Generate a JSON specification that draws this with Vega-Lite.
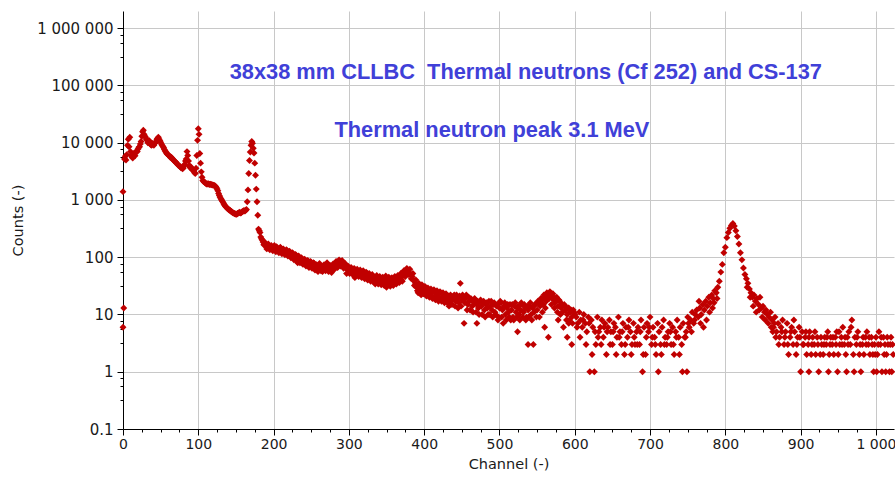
{
"$schema":"https://vega.github.io/schema/vega-lite/v6.json",
"width":771,"height":418,
"autosize":{"type":"none"},
"padding":{"left":123,"top":11,"right":1,"bottom":49},
"background":"white",
"config":{"view":{"stroke":null},"axis":{"labelFont":"DejaVu Sans","labelFontSize":14.5,"labelColor":"#1a1a1a","titleFont":"DejaVu Sans","titleFontSize":14.5,"titleFontWeight":"normal","titleColor":"#1a1a1a","domainColor":"#000000","tickColor":"#000000","gridColor":"#c8c8c8","gridWidth":1}},
"data":{"values":[
{"ch":0,"n":1400},{"ch":1,"n":13},{"ch":0,"n":6},
{"ch":2,"n":5200},{"ch":3,"n":5800},{"ch":4,"n":5000},{"ch":5,"n":6200},{"ch":6,"n":9000},{"ch":7,"n":11500},{"ch":8,"n":8500},{"ch":9,"n":12500},{"ch":10,"n":7000},{"ch":11,"n":6000},{"ch":12,"n":5600},{"ch":14,"n":6400},{"ch":16,"n":5900},{"ch":18,"n":7200},{"ch":20,"n":7800},{"ch":22,"n":8500},{"ch":24,"n":10500},{"ch":25,"n":13000},{"ch":26,"n":15500},{"ch":27,"n":16500},{"ch":28,"n":14000},{"ch":30,"n":12500},{"ch":32,"n":11000},{"ch":34,"n":10500},{"ch":36,"n":9500},{"ch":38,"n":9000},{"ch":40,"n":9300},{"ch":42,"n":9800},{"ch":44,"n":10500},{"ch":46,"n":12000},{"ch":47,"n":12500},{"ch":48,"n":11500},{"ch":50,"n":10200},{"ch":52,"n":9000},{"ch":54,"n":8200},{"ch":56,"n":7200},{"ch":58,"n":6500},{"ch":60,"n":6200},{"ch":62,"n":5800},{"ch":64,"n":5600},{"ch":66,"n":5200},{"ch":68,"n":4800},{"ch":70,"n":4600},{"ch":72,"n":4300},{"ch":74,"n":4000},{"ch":76,"n":3800},{"ch":78,"n":3700},{"ch":80,"n":3600},{"ch":82,"n":4200},{"ch":84,"n":5200},{"ch":85,"n":7000},{"ch":86,"n":6000},{"ch":87,"n":4800},{"ch":88,"n":4000},{"ch":90,"n":3800},{"ch":92,"n":3400},{"ch":94,"n":3200},{"ch":96,"n":2900},{"ch":97,"n":3600},{"ch":98,"n":6000},{"ch":99,"n":11000},{"ch":100,"n":17500},{"ch":101,"n":14000},{"ch":102,"n":6500},{"ch":103,"n":4400},{"ch":104,"n":3100},{"ch":105,"n":2500},{"ch":106,"n":2200},{"ch":108,"n":2050},{"ch":110,"n":1950},{"ch":112,"n":1900},{"ch":114,"n":1900},{"ch":116,"n":1880},{"ch":118,"n":1850},{"ch":120,"n":1820},{"ch":122,"n":1780},{"ch":124,"n":1650},{"ch":126,"n":1450},{"ch":128,"n":1200},{"ch":130,"n":1050},{"ch":132,"n":950},{"ch":134,"n":850},{"ch":136,"n":780},{"ch":138,"n":730},{"ch":140,"n":690},{"ch":142,"n":660},{"ch":144,"n":630},{"ch":146,"n":600},{"ch":148,"n":580},{"ch":150,"n":570},{"ch":152,"n":580},{"ch":154,"n":600},{"ch":156,"n":590},{"ch":158,"n":620},{"ch":160,"n":650},{"ch":162,"n":640},{"ch":164,"n":680},{"ch":165,"n":930},{"ch":166,"n":1500},{"ch":167,"n":2900},{"ch":168,"n":4900},{"ch":169,"n":6900},{"ch":170,"n":9000},{"ch":171,"n":10500},{"ch":172,"n":9800},{"ch":173,"n":8000},{"ch":174,"n":6600},{"ch":175,"n":4400},{"ch":176,"n":2700},{"ch":177,"n":1550},{"ch":178,"n":930},{"ch":179,"n":540},{"ch":180,"n":310},{"ch":182,"n":270},{"ch":183,"n":225},{"ch":184,"n":210},{"ch":186,"n":185},{"ch":188,"n":170},{"ch":190,"n":155},{"ch":192,"n":160},{"ch":194,"n":150},{"ch":196,"n":155},{"ch":198,"n":145},
{"ch":13,"n":5400},{"ch":15,"n":6000},{"ch":17,"n":6800},{"ch":19,"n":7000},{"ch":21,"n":8300},{"ch":23,"n":9500},{"ch":29,"n":13000},{"ch":31,"n":11500},{"ch":33,"n":10000},{"ch":35,"n":10800},{"ch":37,"n":9200},{"ch":39,"n":9700},{"ch":41,"n":9000},{"ch":43,"n":10000},{"ch":45,"n":11500},{"ch":49,"n":10800},{"ch":51,"n":9500},{"ch":53,"n":8600},{"ch":55,"n":7600},{"ch":57,"n":6900},{"ch":59,"n":6300},{"ch":61,"n":6000},{"ch":63,"n":5500},{"ch":65,"n":5400},{"ch":67,"n":5000},{"ch":69,"n":4700},{"ch":71,"n":4400},{"ch":73,"n":4100},{"ch":75,"n":3900},{"ch":77,"n":3650},{"ch":79,"n":3500},{"ch":81,"n":3900},{"ch":83,"n":4800},{"ch":89,"n":3700},{"ch":91,"n":3500},{"ch":93,"n":3300},{"ch":95,"n":3000},
{"ch":107,"n":2100},{"ch":109,"n":2000},{"ch":111,"n":1900},{"ch":113,"n":1920},{"ch":115,"n":1870},{"ch":117,"n":1860},{"ch":119,"n":1830},{"ch":121,"n":1800},{"ch":123,"n":1720},{"ch":125,"n":1550},{"ch":127,"n":1300},{"ch":129,"n":1120},{"ch":131,"n":1000},{"ch":133,"n":900},{"ch":135,"n":810},{"ch":137,"n":750},{"ch":139,"n":700},{"ch":141,"n":670},{"ch":143,"n":640},{"ch":145,"n":610},{"ch":147,"n":590},{"ch":149,"n":570},{"ch":151,"n":560},{"ch":153,"n":590},{"ch":155,"n":610},{"ch":157,"n":600},{"ch":159,"n":630},{"ch":161,"n":650},{"ch":163,"n":660},
{"ch":200,"n":148},{"ch":202,"n":140},{"ch":204,"n":152},{"ch":206,"n":138},{"ch":208,"n":135},{"ch":210,"n":142},{"ch":212,"n":128},{"ch":214,"n":132},{"ch":216,"n":125},{"ch":218,"n":130},{"ch":220,"n":118},{"ch":222,"n":122},{"ch":224,"n":110},{"ch":226,"n":115},{"ch":228,"n":100},{"ch":230,"n":108},{"ch":232,"n":96},{"ch":234,"n":102},{"ch":236,"n":88},{"ch":238,"n":92},{"ch":240,"n":84},{"ch":242,"n":90},{"ch":244,"n":80},{"ch":246,"n":86},{"ch":248,"n":76},{"ch":250,"n":82},{"ch":252,"n":74},{"ch":254,"n":78},{"ch":256,"n":68},{"ch":258,"n":60},{"ch":260,"n":72},{"ch":262,"n":66},{"ch":264,"n":70},{"ch":266,"n":62},{"ch":268,"n":68},{"ch":270,"n":74},{"ch":272,"n":64},{"ch":274,"n":58},{"ch":276,"n":66},{"ch":278,"n":60},{"ch":280,"n":70},{"ch":282,"n":76},{"ch":284,"n":72},{"ch":286,"n":82},{"ch":288,"n":78},{"ch":290,"n":84},{"ch":292,"n":74},{"ch":294,"n":70},{"ch":296,"n":64},{"ch":298,"n":68},{"ch":300,"n":60},{"ch":302,"n":62},{"ch":304,"n":56},{"ch":306,"n":60},{"ch":308,"n":54},{"ch":310,"n":58},{"ch":312,"n":52},{"ch":314,"n":56},{"ch":316,"n":50},{"ch":318,"n":54},{"ch":320,"n":48},{"ch":322,"n":46},{"ch":324,"n":52},{"ch":326,"n":44},{"ch":328,"n":48},{"ch":330,"n":42},{"ch":332,"n":46},{"ch":334,"n":40},{"ch":336,"n":44},{"ch":338,"n":38},{"ch":340,"n":42},{"ch":342,"n":36},{"ch":344,"n":40},{"ch":346,"n":34},{"ch":348,"n":44},{"ch":350,"n":38},{"ch":352,"n":42},{"ch":354,"n":36},{"ch":356,"n":34},{"ch":358,"n":40},{"ch":360,"n":38},{"ch":362,"n":44},{"ch":364,"n":36},{"ch":366,"n":42},{"ch":368,"n":46},{"ch":370,"n":40},{"ch":372,"n":48},{"ch":374,"n":52},{"ch":376,"n":56},{"ch":378,"n":60},{"ch":380,"n":54},{"ch":382,"n":50},{"ch":384,"n":46},{"ch":386,"n":40},{"ch":388,"n":36},{"ch":390,"n":30},{"ch":392,"n":32},{"ch":394,"n":28},{"ch":396,"n":30},{"ch":398,"n":26},{"ch":400,"n":28},
{"ch":232,"n":80},{"ch":308,"n":44},{"ch":350,"n":30},{"ch":392,"n":24},{"ch":396,"n":22},{"ch":265,"n":56},{"ch":297,"n":52},{"ch":335,"n":34},
{"ch":181,"n":290},{"ch":185,"n":200},{"ch":187,"n":165},{"ch":189,"n":180},{"ch":191,"n":140},{"ch":193,"n":170},{"ch":195,"n":135},{"ch":197,"n":160},{"ch":199,"n":130},{"ch":201,"n":160},{"ch":203,"n":125},{"ch":205,"n":145},{"ch":207,"n":120},{"ch":209,"n":150},{"ch":211,"n":115},{"ch":213,"n":140},{"ch":215,"n":110},{"ch":217,"n":135},{"ch":219,"n":105},{"ch":221,"n":128},{"ch":223,"n":98},{"ch":225,"n":120},{"ch":227,"n":90},{"ch":229,"n":112},{"ch":231,"n":85},{"ch":233,"n":105},{"ch":235,"n":80},{"ch":237,"n":98},{"ch":239,"n":75},{"ch":241,"n":92},{"ch":243,"n":70},{"ch":245,"n":88},{"ch":247,"n":66},{"ch":249,"n":84},{"ch":251,"n":64},{"ch":253,"n":80},{"ch":255,"n":60},{"ch":257,"n":74},{"ch":259,"n":56},{"ch":261,"n":78},{"ch":263,"n":58},{"ch":267,"n":74},{"ch":269,"n":58},{"ch":271,"n":80},{"ch":273,"n":56},{"ch":275,"n":72},{"ch":277,"n":54},{"ch":279,"n":76},{"ch":281,"n":62},{"ch":283,"n":84},{"ch":285,"n":66},{"ch":287,"n":90},{"ch":289,"n":70},{"ch":291,"n":88},{"ch":293,"n":64},{"ch":295,"n":78},{"ch":299,"n":70},{"ch":301,"n":52},{"ch":303,"n":66},{"ch":305,"n":50},{"ch":307,"n":64},{"ch":309,"n":48},{"ch":311,"n":62},{"ch":313,"n":46},{"ch":315,"n":60},{"ch":317,"n":44},{"ch":319,"n":58},{"ch":321,"n":42},{"ch":323,"n":55},{"ch":325,"n":40},{"ch":327,"n":52},{"ch":329,"n":38},{"ch":331,"n":50},{"ch":333,"n":37},{"ch":337,"n":48},{"ch":339,"n":34},{"ch":341,"n":46},{"ch":343,"n":33},{"ch":345,"n":45},{"ch":347,"n":32},{"ch":349,"n":47},{"ch":351,"n":33},{"ch":353,"n":45},{"ch":355,"n":31},{"ch":357,"n":44},{"ch":359,"n":32},{"ch":361,"n":46},{"ch":363,"n":34},{"ch":365,"n":48},{"ch":367,"n":36},{"ch":369,"n":52},{"ch":371,"n":38},{"ch":373,"n":58},{"ch":375,"n":46},{"ch":377,"n":64},{"ch":379,"n":50},{"ch":381,"n":62},{"ch":383,"n":42},{"ch":385,"n":52},{"ch":387,"n":32},{"ch":389,"n":40},{"ch":391,"n":26},{"ch":393,"n":35},{"ch":395,"n":24},{"ch":397,"n":33},{"ch":399,"n":23},
{"ch":402,"n":25},{"ch":404,"n":22},{"ch":406,"n":26},{"ch":408,"n":24},{"ch":410,"n":21},{"ch":412,"n":25},{"ch":414,"n":20},{"ch":416,"n":23},{"ch":418,"n":22},{"ch":420,"n":19},{"ch":422,"n":24},{"ch":424,"n":20},{"ch":426,"n":18},{"ch":428,"n":22},{"ch":430,"n":19},{"ch":432,"n":21},{"ch":434,"n":17},{"ch":436,"n":20},{"ch":438,"n":18},{"ch":440,"n":22},{"ch":442,"n":17},{"ch":444,"n":19},{"ch":446,"n":16},{"ch":448,"n":35},{"ch":450,"n":18},{"ch":452,"n":20},{"ch":454,"n":16},{"ch":456,"n":22},{"ch":458,"n":15},{"ch":460,"n":17},{"ch":462,"n":19},{"ch":464,"n":14},{"ch":466,"n":16},{"ch":468,"n":18},{"ch":470,"n":15},{"ch":472,"n":13},{"ch":474,"n":17},{"ch":476,"n":14},{"ch":478,"n":16},{"ch":480,"n":12},{"ch":482,"n":15},{"ch":484,"n":13},{"ch":486,"n":17},{"ch":488,"n":14},{"ch":490,"n":12},{"ch":492,"n":15},{"ch":494,"n":11},{"ch":496,"n":14},{"ch":498,"n":8},{"ch":500,"n":13},{"ch":502,"n":16},{"ch":504,"n":12},{"ch":506,"n":14},{"ch":508,"n":10},{"ch":510,"n":13},{"ch":512,"n":11},{"ch":514,"n":15},{"ch":516,"n":12},{"ch":518,"n":9},{"ch":520,"n":14},{"ch":522,"n":11},{"ch":524,"n":13},{"ch":526,"n":10},{"ch":528,"n":12},{"ch":530,"n":15},{"ch":532,"n":11},{"ch":534,"n":13},{"ch":536,"n":9},{"ch":538,"n":12},{"ch":540,"n":14},{"ch":542,"n":10},{"ch":544,"n":13},{"ch":546,"n":11},{"ch":548,"n":15},{"ch":550,"n":12},{"ch":552,"n":16},{"ch":554,"n":14},{"ch":556,"n":18},{"ch":558,"n":15},{"ch":560,"n":20},{"ch":562,"n":17},{"ch":564,"n":22},{"ch":566,"n":19},{"ch":568,"n":24},{"ch":570,"n":21},{"ch":572,"n":18},{"ch":574,"n":16},{"ch":576,"n":20},{"ch":578,"n":14},{"ch":580,"n":17},{"ch":582,"n":13},{"ch":584,"n":11},{"ch":586,"n":15},{"ch":588,"n":12},{"ch":590,"n":10},{"ch":592,"n":13},{"ch":594,"n":11},{"ch":596,"n":9},{"ch":598,"n":12},{"ch":600,"n":10},
{"ch":453,"n":7},{"ch":470,"n":7},{"ch":505,"n":7},{"ch":538,"n":3},{"ch":545,"n":3},{"ch":524,"n":5},{"ch":560,"n":6},{"ch":565,"n":4},{"ch":590,"n":4},{"ch":596,"n":3},{"ch":592,"n":7},{"ch":585,"n":6},{"ch":578,"n":8},{"ch":433,"n":14},{"ch":487,"n":10},{"ch":515,"n":8},{"ch":553,"n":9},
{"ch":401,"n":31},{"ch":403,"n":21},{"ch":405,"n":29},{"ch":407,"n":20},{"ch":409,"n":28},{"ch":411,"n":19},{"ch":413,"n":27},{"ch":415,"n":18},{"ch":417,"n":26},{"ch":419,"n":17},{"ch":421,"n":25},{"ch":423,"n":17},{"ch":425,"n":24},{"ch":427,"n":16},{"ch":429,"n":23},{"ch":431,"n":16},{"ch":435,"n":22},{"ch":437,"n":15},{"ch":439,"n":21},{"ch":441,"n":14},{"ch":443,"n":22},{"ch":445,"n":13},{"ch":447,"n":21},{"ch":449,"n":14},{"ch":451,"n":22},{"ch":455,"n":19},{"ch":457,"n":12},{"ch":459,"n":20},{"ch":461,"n":12},{"ch":463,"n":18},{"ch":465,"n":11},{"ch":467,"n":19},{"ch":469,"n":11},{"ch":471,"n":17},{"ch":473,"n":10},{"ch":475,"n":18},{"ch":477,"n":10},{"ch":479,"n":17},{"ch":481,"n":9},{"ch":483,"n":16},{"ch":485,"n":10},{"ch":489,"n":17},{"ch":491,"n":9},{"ch":493,"n":16},{"ch":495,"n":10},{"ch":497,"n":15},{"ch":499,"n":9},{"ch":501,"n":17},{"ch":503,"n":9},{"ch":507,"n":16},{"ch":509,"n":8},{"ch":511,"n":15},{"ch":513,"n":9},{"ch":517,"n":15},{"ch":519,"n":8},{"ch":521,"n":16},{"ch":523,"n":9},{"ch":525,"n":14},{"ch":527,"n":8},{"ch":529,"n":16},{"ch":531,"n":9},{"ch":533,"n":15},{"ch":535,"n":8},{"ch":537,"n":14},{"ch":539,"n":9},{"ch":541,"n":16},{"ch":543,"n":8},{"ch":547,"n":15},{"ch":549,"n":9},{"ch":551,"n":17},{"ch":555,"n":19},{"ch":557,"n":11},{"ch":559,"n":22},{"ch":561,"n":13},{"ch":563,"n":24},{"ch":567,"n":25},{"ch":569,"n":15},{"ch":571,"n":23},{"ch":573,"n":13},{"ch":575,"n":19},{"ch":577,"n":11},{"ch":579,"n":18},{"ch":581,"n":10},{"ch":583,"n":15},{"ch":587,"n":14},{"ch":589,"n":8},{"ch":591,"n":13},{"ch":593,"n":8},{"ch":595,"n":12},{"ch":597,"n":7},{"ch":599,"n":11},
{"ch":602,"n":9},{"ch":604,"n":7},{"ch":606,"n":11},{"ch":608,"n":8},{"ch":610,"n":6},{"ch":612,"n":10},{"ch":614,"n":7},{"ch":616,"n":5},{"ch":618,"n":9},{"ch":620,"n":1},{"ch":622,"n":8},{"ch":624,"n":6},{"ch":626,"n":1},{"ch":628,"n":3},{"ch":630,"n":9},{"ch":632,"n":5},{"ch":634,"n":6},{"ch":636,"n":8},{"ch":638,"n":4},{"ch":640,"n":7},{"ch":642,"n":2},{"ch":644,"n":6},{"ch":646,"n":8},{"ch":648,"n":5},{"ch":650,"n":3},{"ch":652,"n":7},{"ch":654,"n":6},{"ch":656,"n":4},{"ch":658,"n":9},{"ch":660,"n":5},{"ch":662,"n":3},{"ch":664,"n":7},{"ch":666,"n":2},{"ch":668,"n":6},{"ch":670,"n":4},{"ch":672,"n":8},{"ch":674,"n":5},{"ch":676,"n":3},{"ch":678,"n":7},{"ch":680,"n":3},{"ch":682,"n":5},{"ch":684,"n":6},{"ch":686,"n":3},{"ch":688,"n":8},{"ch":690,"n":1},{"ch":692,"n":6},{"ch":694,"n":2},{"ch":696,"n":7},{"ch":698,"n":5},{"ch":700,"n":9},{"ch":702,"n":3},{"ch":704,"n":6},{"ch":706,"n":4},{"ch":708,"n":2},{"ch":710,"n":7},{"ch":712,"n":5},{"ch":714,"n":3},{"ch":716,"n":6},{"ch":718,"n":8},{"ch":720,"n":4},{"ch":722,"n":3},{"ch":724,"n":5},{"ch":726,"n":7},{"ch":728,"n":3},{"ch":730,"n":6},{"ch":732,"n":2},{"ch":734,"n":5},{"ch":736,"n":8},{"ch":738,"n":4},{"ch":740,"n":6},{"ch":742,"n":3},{"ch":744,"n":7},{"ch":746,"n":4},{"ch":748,"n":5},{"ch":750,"n":9},{"ch":752,"n":6},{"ch":754,"n":8},{"ch":756,"n":11},{"ch":758,"n":7},{"ch":760,"n":10},
{"ch":603,"n":6},{"ch":607,"n":4},{"ch":611,"n":8},{"ch":615,"n":3},{"ch":619,"n":7},{"ch":623,"n":2},{"ch":627,"n":5},{"ch":631,"n":4},{"ch":635,"n":3},{"ch":639,"n":6},{"ch":643,"n":5},{"ch":647,"n":3},{"ch":651,"n":5},{"ch":655,"n":2},{"ch":659,"n":4},{"ch":663,"n":5},{"ch":667,"n":3},{"ch":671,"n":6},{"ch":675,"n":2},{"ch":679,"n":4},{"ch":683,"n":3},{"ch":687,"n":5},{"ch":691,"n":2},{"ch":695,"n":4},{"ch":699,"n":6},{"ch":703,"n":4},{"ch":707,"n":3},{"ch":711,"n":1},{"ch":715,"n":2},{"ch":719,"n":3},{"ch":723,"n":4},{"ch":727,"n":5},{"ch":731,"n":3},{"ch":735,"n":4},{"ch":739,"n":2},{"ch":743,"n":1},{"ch":747,"n":4},{"ch":749,"n":1},{"ch":751,"n":7},{"ch":755,"n":5},{"ch":759,"n":8},
{"ch":762,"n":12},{"ch":764,"n":9},{"ch":765,"n":17},{"ch":766,"n":13},{"ch":768,"n":10},{"ch":770,"n":15},{"ch":772,"n":12},{"ch":774,"n":17},{"ch":776,"n":14},{"ch":778,"n":20},{"ch":780,"n":16},{"ch":782,"n":22},{"ch":784,"n":19},{"ch":786,"n":26},{"ch":788,"n":24},{"ch":790,"n":30},{"ch":792,"n":38},{"ch":794,"n":55},{"ch":796,"n":75},{"ch":798,"n":120},{"ch":800,"n":150},{"ch":802,"n":220},{"ch":804,"n":270},{"ch":806,"n":320},{"ch":808,"n":360},{"ch":810,"n":390},{"ch":812,"n":350},{"ch":814,"n":290},{"ch":816,"n":230},{"ch":818,"n":170},{"ch":820,"n":120},{"ch":822,"n":90},{"ch":824,"n":65},{"ch":826,"n":50},{"ch":828,"n":42},{"ch":830,"n":35},{"ch":832,"n":28},{"ch":834,"n":24},{"ch":836,"n":20},{"ch":838,"n":22},{"ch":840,"n":17},{"ch":842,"n":19},{"ch":844,"n":15},{"ch":846,"n":20},{"ch":848,"n":13},{"ch":850,"n":14},{"ch":852,"n":11},{"ch":854,"n":12},{"ch":856,"n":10},{"ch":858,"n":9},{"ch":860,"n":11},
{"ch":767,"n":7},{"ch":771,"n":6},{"ch":775,"n":8},{"ch":779,"n":11},{"ch":783,"n":13},{"ch":785,"n":16},{"ch":789,"n":19},{"ch":829,"n":30},{"ch":833,"n":20},{"ch":837,"n":14},{"ch":841,"n":11},{"ch":845,"n":12},{"ch":849,"n":9},{"ch":853,"n":8},{"ch":857,"n":7},{"ch":861,"n":6},{"ch":865,"n":7},
{"ch":862,"n":8},{"ch":864,"n":6},{"ch":866,"n":9},{"ch":868,"n":5},{"ch":870,"n":7},{"ch":872,"n":4},{"ch":874,"n":6},{"ch":876,"n":8},{"ch":878,"n":3},{"ch":880,"n":5},{"ch":882,"n":7},{"ch":884,"n":2},{"ch":886,"n":4},{"ch":888,"n":6},{"ch":890,"n":3},{"ch":892,"n":5},{"ch":894,"n":2},{"ch":896,"n":4},{"ch":898,"n":6},{"ch":900,"n":1},{"ch":902,"n":5},{"ch":904,"n":3},{"ch":906,"n":4},{"ch":908,"n":2},{"ch":910,"n":3},{"ch":911,"n":1},{"ch":912,"n":5},{"ch":914,"n":2},{"ch":916,"n":4},{"ch":918,"n":3},{"ch":920,"n":2},{"ch":922,"n":4},{"ch":924,"n":1},{"ch":926,"n":2},{"ch":928,"n":3},{"ch":930,"n":2},{"ch":932,"n":4},{"ch":934,"n":3},{"ch":936,"n":5},{"ch":937,"n":1},{"ch":938,"n":2},{"ch":940,"n":4},{"ch":942,"n":3},{"ch":944,"n":2},{"ch":946,"n":4},{"ch":948,"n":5},{"ch":949,"n":1},{"ch":950,"n":2},{"ch":952,"n":3},{"ch":954,"n":4},{"ch":956,"n":6},{"ch":958,"n":3},{"ch":960,"n":2},{"ch":961,"n":1},{"ch":962,"n":4},{"ch":964,"n":5},{"ch":966,"n":3},{"ch":968,"n":8},{"ch":970,"n":2},{"ch":971,"n":1},{"ch":972,"n":4},{"ch":974,"n":3},{"ch":976,"n":5},{"ch":978,"n":2},{"ch":980,"n":1},{"ch":982,"n":3},{"ch":984,"n":2},{"ch":986,"n":4},{"ch":988,"n":5},{"ch":990,"n":3},{"ch":992,"n":2},{"ch":994,"n":4},{"ch":996,"n":2},{"ch":997,"n":1},{"ch":998,"n":3},{"ch":1000,"n":4},{"ch":1001,"n":1},{"ch":1002,"n":2},{"ch":1004,"n":5},{"ch":1006,"n":3},{"ch":1008,"n":1},{"ch":1010,"n":4},{"ch":1012,"n":3},{"ch":1013,"n":1},{"ch":1014,"n":2},{"ch":1016,"n":3},{"ch":1018,"n":1},{"ch":1020,"n":4},{"ch":1021,"n":1},{"ch":1022,"n":3},
{"ch":863,"n":5},{"ch":867,"n":4},{"ch":871,"n":3},{"ch":875,"n":5},{"ch":879,"n":4},{"ch":883,"n":3},{"ch":887,"n":5},{"ch":891,"n":8},{"ch":895,"n":3},{"ch":899,"n":4},{"ch":903,"n":3},{"ch":907,"n":5},{"ch":911,"n":4},{"ch":915,"n":3},{"ch":919,"n":5},{"ch":923,"n":3},{"ch":927,"n":4},{"ch":931,"n":3},{"ch":935,"n":4},{"ch":939,"n":3},{"ch":943,"n":4},{"ch":947,"n":3},{"ch":951,"n":5},{"ch":955,"n":3},{"ch":959,"n":4},{"ch":963,"n":3},{"ch":967,"n":6},{"ch":975,"n":4},{"ch":979,"n":3},{"ch":983,"n":4},{"ch":987,"n":3},{"ch":991,"n":4},{"ch":995,"n":3},{"ch":999,"n":2},{"ch":1003,"n":3},{"ch":1007,"n":4},{"ch":1011,"n":2},{"ch":1015,"n":4},{"ch":1019,"n":3},{"ch":1023,"n":2}
]},
"encoding":{
"x":{"field":"ch","type":"quantitative","title":"Channel (-)","scale":{"domain":[0,1024],"nice":false,"zero":false},
"axis":{"values":[0,25,50,75,100,125,150,175,200,225,250,275,300,325,350,375,400,425,450,475,500,525,550,575,600,625,650,675,700,725,750,775,800,825,850,875,900,925,950,975,1000],
"labelExpr":"datum.value % 100 === 0 ? replace(format(datum.value, ',~f'), ',', ' ') : ''",
"labelFontSize":14,
"tickSize":{"condition":{"test":"datum.value % 100 === 0","value":6},"value":3},
"gridOpacity":{"condition":{"test":"datum.value % 100 === 0 && datum.value > 0","value":1},"value":0},
"grid":true,"labelPadding":2,"titlePadding":6,"labelFlush":false,"labelOverlap":false}},
"y":{"field":"n","type":"quantitative","title":"Counts (-)","scale":{"type":"log","domain":[0.1,2000000],"nice":false},
"axis":{"values":[0.1,0.32,0.56,0.766,1,3.2,5.6,7.66,10,32,56,76.6,100,320,560,766,1000,3200,5600,7660,10000,32000,56000,76600,100000,320000,560000,766000,1000000],
"labelExpr":"abs(log(datum.value)/LN10 - round(log(datum.value)/LN10)) < 0.001 ? replace(replace(format(datum.value, ',~f'), ',', ' '), ',', ' ') : ''",
"labelFontSize":15,
"tickSize":{"condition":{"test":"abs(log(datum.value)/LN10 - round(log(datum.value)/LN10)) < 0.001","value":6},"value":3},
"gridOpacity":{"condition":{"test":"abs(log(datum.value)/LN10 - round(log(datum.value)/LN10)) < 0.001 && datum.value > 0.11","value":1},"value":0},
"grid":true,"labelPadding":4,"titlePadding":11,"labelFlush":false,"labelOverlap":false}}
},
"layer":[
{"mark":{"type":"point","shape":"diamond","filled":true,"size":48,"color":"#c00000","opacity":1,"strokeWidth":0}},
{"data":{"values":[{"ch":535,"n":170000,"label":"38x38 mm CLLBC \u00a0Thermal neutrons (Cf 252) and CS-137"},{"ch":490,"n":16500,"label":"Thermal neutron peak 3.1 MeV"}]},
"mark":{"type":"text","font":"Liberation Sans","fontSize":21.8,"fontWeight":"bold","color":"#4040d8","align":"center","baseline":"middle"},
"encoding":{"text":{"field":"label","type":"nominal"}}}
]
}
